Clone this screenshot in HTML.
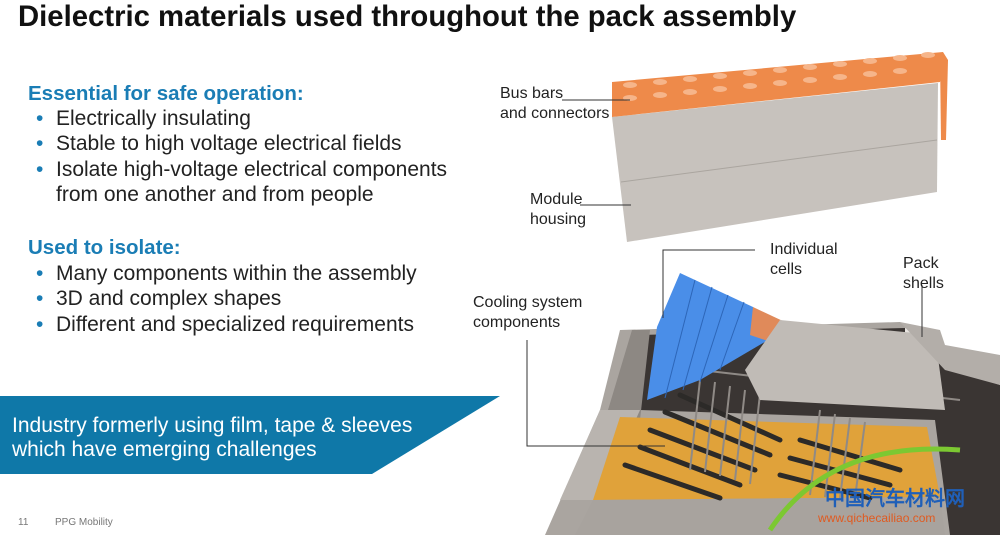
<!DOCTYPE html>
<html><head><meta charset="utf-8"><style>
html,body{margin:0;padding:0;background:#fff;width:1000px;height:535px;overflow:hidden}
svg{display:block}
text{font-family:"Liberation Sans",Arial,sans-serif}
</style></head><body>
<svg width="1000" height="535" viewBox="0 0 1000 535" xmlns="http://www.w3.org/2000/svg">
<rect width="1000" height="535" fill="#fff"/>
<text x="18" y="26" font-size="29.3" font-weight="bold" fill="#111">Dielectric materials used throughout the pack assembly</text>
<g font-size="21" fill="#222">
<text x="28" y="100" font-weight="bold" fill="#1a7db5" font-size="20.5">Essential for safe operation:</text>
<text x="36" y="125" fill="#1a7db5">•</text><text x="56" y="125">Electrically insulating</text>
<text x="36" y="150" fill="#1a7db5">•</text><text x="56" y="150">Stable to high voltage electrical fields</text>
<text x="36" y="176" fill="#1a7db5">•</text><text x="56" y="176">Isolate high-voltage electrical components</text>
<text x="56" y="201">from one another and from people</text>
<text x="28" y="254" font-weight="bold" fill="#1a7db5" font-size="20.5">Used to isolate:</text>
<text x="36" y="280" fill="#1a7db5">•</text><text x="56" y="280">Many components within the assembly</text>
<text x="36" y="305" fill="#1a7db5">•</text><text x="56" y="305">3D and complex shapes</text>
<text x="36" y="331" fill="#1a7db5">•</text><text x="56" y="331">Different and specialized requirements</text>
</g>
<polygon points="0,396 500,396 372,474 0,474" fill="#0f78a8"/>
<text x="12" y="432" font-size="21" fill="#fff">Industry formerly using film, tape &amp; sleeves</text>
<text x="12" y="456" font-size="21" fill="#fff">which have emerging challenges</text>
<text x="18" y="525" font-size="10" fill="#777">11</text>
<text x="55" y="525" font-size="10" fill="#777">PPG Mobility</text>

<!-- module -->
<polygon points="612,117 938,83 937,192 627,242" fill="#c7c2bd"/>
<line x1="621" y1="182" x2="937" y2="140" stroke="#aaa59f" stroke-width="1"/>
<polygon points="612,82 943,52 948,60 940,82 612,117" fill="#ee8a4a"/>
<polygon points="940,58 948,60 946,140 941,140" fill="#ee8a4a"/>
<g fill="#f6b58a">
<ellipse cx="630" cy="85" rx="7" ry="3"/><ellipse cx="660" cy="82" rx="7" ry="3"/><ellipse cx="690" cy="79" rx="7" ry="3"/><ellipse cx="720" cy="76" rx="7" ry="3"/><ellipse cx="750" cy="73" rx="7" ry="3"/><ellipse cx="780" cy="70" rx="7" ry="3"/><ellipse cx="810" cy="67" rx="7" ry="3"/><ellipse cx="840" cy="64" rx="7" ry="3"/><ellipse cx="870" cy="61" rx="7" ry="3"/><ellipse cx="900" cy="58" rx="7" ry="3"/><ellipse cx="928" cy="55" rx="7" ry="3"/>
<ellipse cx="630" cy="98" rx="7" ry="3"/><ellipse cx="660" cy="95" rx="7" ry="3"/><ellipse cx="690" cy="92" rx="7" ry="3"/><ellipse cx="720" cy="89" rx="7" ry="3"/><ellipse cx="750" cy="86" rx="7" ry="3"/><ellipse cx="780" cy="83" rx="7" ry="3"/><ellipse cx="810" cy="80" rx="7" ry="3"/><ellipse cx="840" cy="77" rx="7" ry="3"/><ellipse cx="870" cy="74" rx="7" ry="3"/><ellipse cx="900" cy="71" rx="7" ry="3"/>
</g>

<!-- pack -->
<polygon points="620,330 900,322 1000,390 1000,535 545,535 600,410" fill="#aaa5a0"/>
<polygon points="640,335 905,328 945,365 1000,385 1000,535 950,535 935,420 640,410" fill="#3a3533"/>
<polygon points="905,328 940,340 945,360 905,345" fill="#e8e4e0"/>
<polygon points="632,330 650,330 640,420 605,420" fill="#8d8883"/>
<polygon points="600,410 640,410 600,500 560,500" fill="#b9b4af"/>
<polygon points="620,417 927,427 940,497 593,500" fill="#e0a23a"/>
<polygon points="593,500 940,497 945,535 575,535" fill="#a8a39e"/>
<g stroke="#2c2a28" stroke-width="5" stroke-linecap="round">
<line x1="680" y1="395" x2="780" y2="440"/><line x1="665" y1="412" x2="770" y2="455"/><line x1="650" y1="430" x2="755" y2="470"/><line x1="640" y1="447" x2="740" y2="485"/><line x1="625" y1="465" x2="720" y2="498"/>
<line x1="800" y1="440" x2="900" y2="470"/><line x1="790" y1="458" x2="890" y2="485"/><line x1="780" y1="475" x2="870" y2="498"/>
</g>
<g stroke="#8f8a86" stroke-width="2" fill="none">
<path d="M700,380 L690,470 M715,382 L705,472 M730,386 L720,476 M745,390 L735,480 M760,394 L750,484 M820,410 L810,495 M835,414 L825,497 M850,418 L840,498 M865,422 L855,498"/>
<path d="M700,370 L960,400"/>
</g>
<polygon points="680,273 753,307 780,333 700,380 647,400 657,327" fill="#4a8ee8"/>
<g stroke="#2d66b8" stroke-width="1"><line x1="695" y1="280" x2="665" y2="398"/><line x1="712" y1="287" x2="683" y2="390"/><line x1="728" y1="295" x2="700" y2="382"/><line x1="744" y1="302" x2="720" y2="370"/></g>
<polygon points="753,307 785,322 780,345 750,335" fill="#e08a5a"/>
<polygon points="780,320 935,335 945,410 760,400 745,370" fill="#c0bbb6"/>
<polygon points="900,322 940,330 945,345 1000,355 1000,385 945,370" fill="#b3aea9"/>

<!-- leader lines -->
<g stroke="#333" stroke-width="1" fill="none">
<polyline points="562,100 630,100"/>
<polyline points="580,205 631,205"/>
<polyline points="755,250 663,250 663,318"/>
<polyline points="527,340 527,446 665,446"/>
<polyline points="922,285 922,337"/>
</g>
<g font-size="16" fill="#222">
<text x="500" y="98">Bus bars</text>
<text x="500" y="118">and connectors</text>
<text x="530" y="204">Module</text>
<text x="530" y="224">housing</text>
<text x="770" y="254">Individual</text>
<text x="770" y="274">cells</text>
<text x="903" y="268">Pack</text>
<text x="903" y="288">shells</text>
<text x="473" y="307">Cooling system</text>
<text x="473" y="327">components</text>
</g>
<path d="M770,530 Q830,440 960,450" stroke="#7cc832" stroke-width="5" fill="none"/>
<text x="825" y="505" font-size="20" font-weight="bold" fill="#1f5fb8" font-family="'Liberation Sans','Noto Sans CJK SC',sans-serif">中国汽车材料网</text>
<text x="818" y="522" font-size="12" fill="#e05a20">www.qichecailiao.com</text>
</svg>
</body></html>
